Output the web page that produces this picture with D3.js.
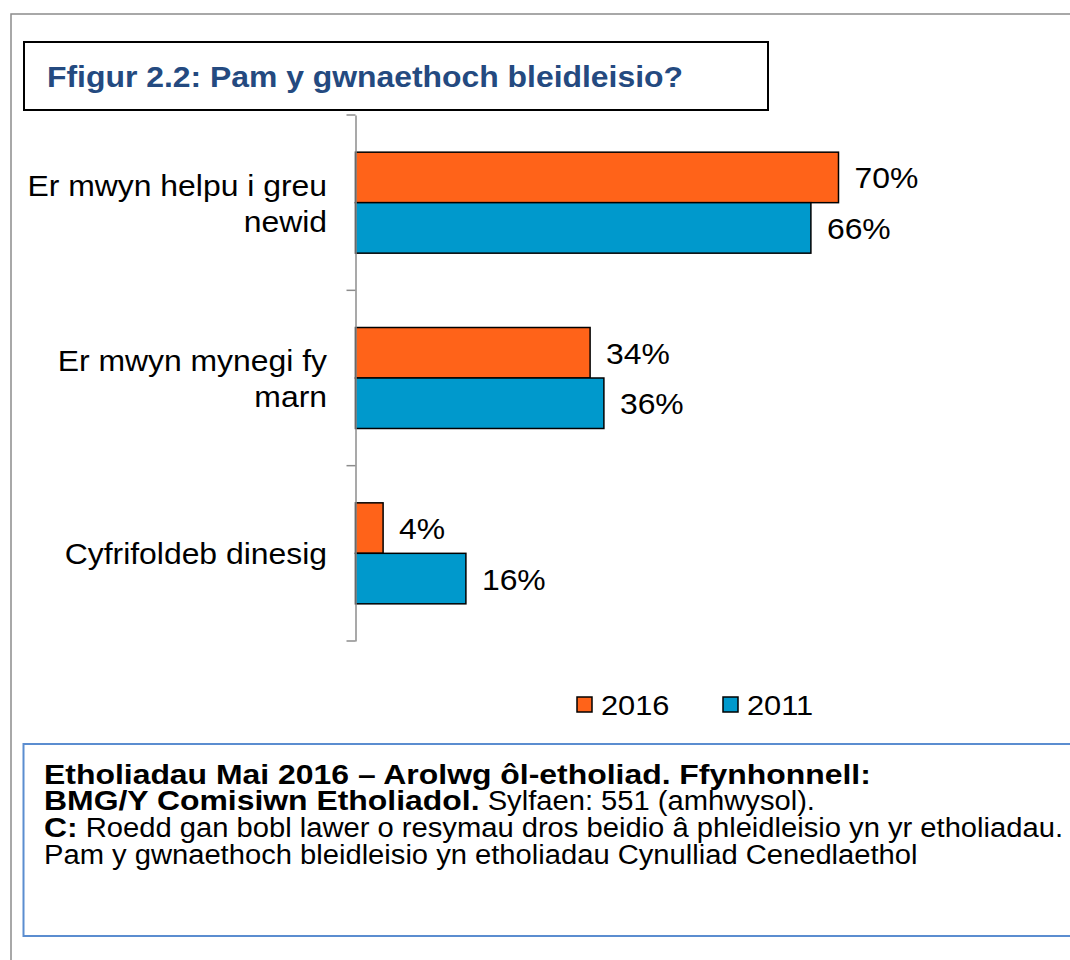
<!DOCTYPE html>
<html>
<head>
<meta charset="utf-8">
<script src="https://cdn.jsdelivr.net/npm/d3@7"></script>
<style>
  html, body { margin: 0; padding: 0; background: #fff; }
  svg { display: block; font-family: "Liberation Sans", Arial, sans-serif; }
</style>
</head>
<body>
<svg id="chart" width="1070" height="960"></svg>
<script>
// ---- data ----
const categories = ["Er mwyn helpu i greu newid", "Er mwyn mynegi fy marn", "Cyfrifoldeb dinesig"];
const categoryLines = [["Er mwyn helpu i greu", "newid"], ["Er mwyn mynegi fy", "marn"], ["Cyfrifoldeb dinesig"]];
const seriesNames = ["2016", "2011"];
const values2016 = [70, 34, 4];
const values2011 = [66, 36, 16];
const seriesColors = ["#FF6319", "#0099CC"];
const titleText = "Ffigur 2.2: Pam y gwnaethoch bleidleisio?";
const sourceLines = [
  [{b: true, t: "Etholiadau Mai 2016 – Arolwg ôl-etholiad. Ffynhonnell:"}],
  [{b: true, t: "BMG/Y Comisiwn Etholiadol."}, {b: false, t: " Sylfaen: 551 (amhwysol)."}],
  [{b: true, t: "C:"}, {b: false, t: " Roedd gan bobl lawer o resymau dros beidio â phleidleisio yn yr etholiadau."}],
  [{b: false, t: "Pam y gwnaethoch bleidleisio yn etholiadau Cynulliad Cenedlaethol"}]
];

const SX = 1.1; // horizontal stretch of the original's text
const svg = d3.select("#chart");
function place(sel, x, y, sx) {
  return sel.attr("x", 0).attr("y", 0).attr("transform", `translate(${x},${y}) scale(${sx || SX},1)`);
}

// outer frame
svg.append("rect").attr("x", 11).attr("y", 14).attr("width", 1100).attr("height", 1000)
  .attr("fill", "none").attr("stroke", "#8c8c8c").attr("stroke-width", 1.5);

// title box
svg.append("rect").attr("x", 24).attr("y", 42).attr("width", 744).attr("height", 68)
  .attr("fill", "#fff").attr("stroke", "#000").attr("stroke-width", 2);
place(svg.append("text"), 47, 87).text(titleText)
  .attr("font-size", 29).attr("font-weight", "bold").attr("fill", "#244a80");

// scales
const x = d3.scaleLinear().domain([0, 100]).range([355.5, 1045.5]);
const y = d3.scaleBand().domain(categories).range([115, 641]).paddingInner(0).paddingOuter(0);
const ySub = d3.scaleBand().domain(seriesNames)
  .range([y.bandwidth() * 0.212, y.bandwidth() * 0.788]);
const color = d3.scaleOrdinal().domain(seriesNames).range(seriesColors);

const rows = categories.map((c, i) => ({
  cat: c, lines: categoryLines[i],
  vals: [{s: "2016", v: values2016[i]}, {s: "2011", v: values2011[i]}]
}));

// bars
const g = svg.append("g");
const groups = g.selectAll("g.cat").data(rows).join("g")
  .attr("transform", d => `translate(0,${y(d.cat)})`);
groups.selectAll("rect").data(d => d.vals).join("rect")
  .attr("x", x(0)).attr("y", d => ySub(d.s))
  .attr("width", d => x(d.v) - x(0)).attr("height", ySub.bandwidth())
  .attr("fill", d => color(d.s)).attr("stroke", "#000").attr("stroke-width", 1.5);
groups.selectAll("text.val").data(d => d.vals).join("text").attr("class", "val")
  .attr("transform", d => `translate(${x(d.v) + 16},${ySub(d.s) + ySub.bandwidth() / 2 + 11}) scale(${SX},1)`)
  .attr("font-size", 29).attr("fill", "#000").text(d => d.v + "%");

// axis
const axis = d3.axisLeft(y).tickSize(0).tickFormat("");
const ax = svg.append("g").attr("transform", `translate(${x(0)},0)`).call(axis);
ax.select(".domain").attr("stroke", "#8c8c8c").attr("stroke-width", 1.5);
const tickPos = y.domain().map(c => y(c)).concat([y.range()[1]]);
ax.selectAll("line.tk").data(tickPos).join("line").attr("class", "tk")
  .attr("x1", -9).attr("x2", 0).attr("y1", d => d).attr("y2", d => d)
  .attr("stroke", "#8c8c8c").attr("stroke-width", 1.5);

// category labels
const lineH = 36;
rows.forEach(r => {
  const cy = y(r.cat) + y.bandwidth() / 2;
  const n = r.lines.length;
  r.lines.forEach((l, i) => {
    place(svg.append("text"), 327, cy + 11 + (i - (n - 1) / 2) * lineH)
      .attr("text-anchor", "end").attr("font-size", 29).attr("fill", "#000").text(l);
  });
});

// legend
const legendX = [577, 723];
seriesNames.forEach((s, i) => {
  svg.append("rect").attr("x", legendX[i]).attr("y", 697).attr("width", 15).attr("height", 15)
    .attr("fill", color(s)).attr("stroke", "#000").attr("stroke-width", 1.5);
  place(svg.append("text"), legendX[i] + 24, 715).attr("font-size", 28).text(s);
});

// source box
svg.append("rect").attr("x", 23.5).attr("y", 744).attr("width", 1100).attr("height", 192)
  .attr("fill", "#fff").attr("stroke", "#5B8DD0").attr("stroke-width", 2);
const src = svg.append("g").attr("fill", "#000");
const baselines = [784, 810, 837, 864];
const boldStyle = {size: 28, sx: 1.14}, regStyle = {size: 27, sx: 1.08};
sourceLines.forEach((segs, li) => {
  let cx = 44;
  segs.forEach(seg => {
    const st = seg.b ? boldStyle : regStyle;
    const t = place(src.append("text"), cx, baselines[li], st.sx)
      .attr("font-size", st.size).attr("font-weight", seg.b ? "bold" : "normal")
      .attr("xml:space", "preserve").style("white-space", "pre").text(seg.t);
    cx += t.node().getComputedTextLength() * st.sx;
  });
});
</script>
</body>
</html>
